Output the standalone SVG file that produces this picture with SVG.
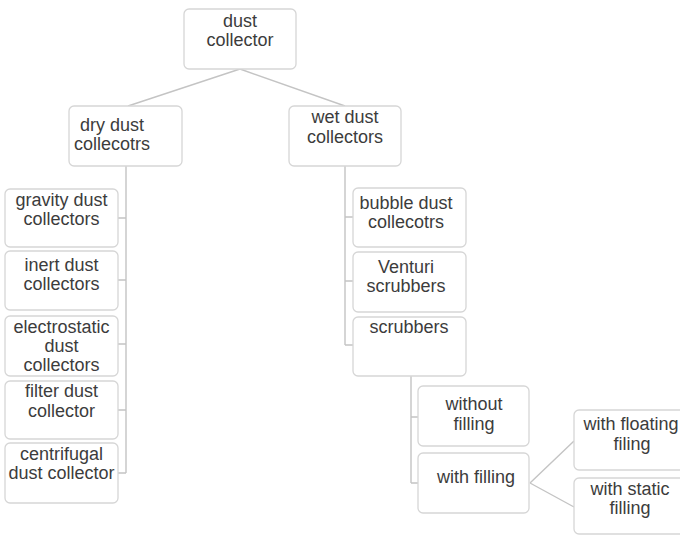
<svg xmlns="http://www.w3.org/2000/svg" width="680" height="535" viewBox="0 0 680 535">
  <style>
    .box { fill: #ffffff; stroke: #d6d6d6; stroke-width: 1.3; }
    .lbl { font-family: "Liberation Sans", Arial, sans-serif; font-size: 18px; fill: #3c3c3c; text-anchor: middle; }
    .wire { fill: none; stroke: #c4c4c4; stroke-width: 1.4; }
  </style>
  <rect width="680" height="535" fill="#ffffff"/>

  <!-- connectors -->
  <g id="connectors">
    <path class="wire" d="M240,69 L128,106 M240,69 L345,106"/>
    <!-- dry branch -->
    <path class="wire" d="M126,166 V473 M118,218 H126 M118,280 H126 M118,344 H126 M118,410 H126 M118,473 H126"/>
    <!-- wet branch -->
    <path class="wire" d="M345,166 V345 M345,217 H353 M345,281 H353 M345,345 H353"/>
    <!-- scrubbers branch -->
    <path class="wire" d="M411,376 V483 M411,417 H418 M411,483 H418"/>
    <!-- filling branch -->
    <path class="wire" d="M530,483 L574,441 M530,483 L574,507"/>
  </g>

  <g id="dust-collector">
    <rect class="box" x="184" y="9" width="112" height="60" rx="5"/>
    <text class="lbl" x="240" y="27">dust</text>
    <text class="lbl" x="240" y="46">collector</text>
  </g>

  <g id="dry-dust-collectors">
    <rect class="box" x="69" y="106" width="113" height="60" rx="5"/>
    <text class="lbl" x="112" y="131">dry dust</text>
    <text class="lbl" x="112" y="150">collecotrs</text>
  </g>

  <g id="wet-dust-collectors">
    <rect class="box" x="289" y="106" width="112" height="60" rx="5"/>
    <text class="lbl" x="345" y="123">wet dust</text>
    <text class="lbl" x="345" y="143">collectors</text>
  </g>

  <g id="gravity">
    <rect class="box" x="5" y="189" width="113" height="58" rx="5"/>
    <text class="lbl" x="61.5" y="206">gravity dust</text>
    <text class="lbl" x="61.5" y="225">collectors</text>
  </g>

  <g id="inert">
    <rect class="box" x="5" y="251" width="113" height="59" rx="5"/>
    <text class="lbl" x="61.5" y="271">inert dust</text>
    <text class="lbl" x="61.5" y="290">collectors</text>
  </g>

  <g id="electrostatic">
    <rect class="box" x="5" y="316" width="113" height="60" rx="5"/>
    <text class="lbl" x="61.5" y="333">electrostatic</text>
    <text class="lbl" x="61.5" y="352">dust</text>
    <text class="lbl" x="61.5" y="371">collectors</text>
  </g>

  <g id="filter">
    <rect class="box" x="5" y="381" width="113" height="58" rx="5"/>
    <text class="lbl" x="61.5" y="397">filter dust</text>
    <text class="lbl" x="61.5" y="417">collector</text>
  </g>

  <g id="centrifugal">
    <rect class="box" x="5" y="443" width="113" height="60" rx="5"/>
    <text class="lbl" x="61.5" y="460">centrifugal</text>
    <text class="lbl" x="61.5" y="479">dust collector</text>
  </g>

  <g id="bubble">
    <rect class="box" x="353" y="188" width="113" height="59" rx="5"/>
    <text class="lbl" x="406" y="209">bubble dust</text>
    <text class="lbl" x="406" y="228">collecotrs</text>
  </g>

  <g id="venturi">
    <rect class="box" x="353" y="252" width="113" height="60" rx="5"/>
    <text class="lbl" x="406" y="273">Venturi</text>
    <text class="lbl" x="406" y="292">scrubbers</text>
  </g>

  <g id="scrubbers">
    <rect class="box" x="353" y="317" width="113" height="59" rx="5"/>
    <text class="lbl" x="409" y="333">scrubbers</text>
  </g>

  <g id="without-filling">
    <rect class="box" x="418" y="386" width="111" height="60" rx="5"/>
    <text class="lbl" x="474" y="410">without</text>
    <text class="lbl" x="474" y="430">filling</text>
  </g>

  <g id="with-filling">
    <rect class="box" x="418" y="453" width="111" height="60" rx="5"/>
    <text class="lbl" x="476" y="483">with filling</text>
  </g>

  <g id="with-floating-filing">
    <rect class="box" x="574" y="410" width="112" height="60" rx="5"/>
    <text class="lbl" x="631" y="430">with floating</text>
    <text class="lbl" x="632" y="450">filing</text>
  </g>

  <g id="with-static-filling">
    <rect class="box" x="574" y="478" width="112" height="56" rx="5"/>
    <text class="lbl" x="630" y="495">with static</text>
    <text class="lbl" x="630" y="514">filling</text>
  </g>
</svg>
